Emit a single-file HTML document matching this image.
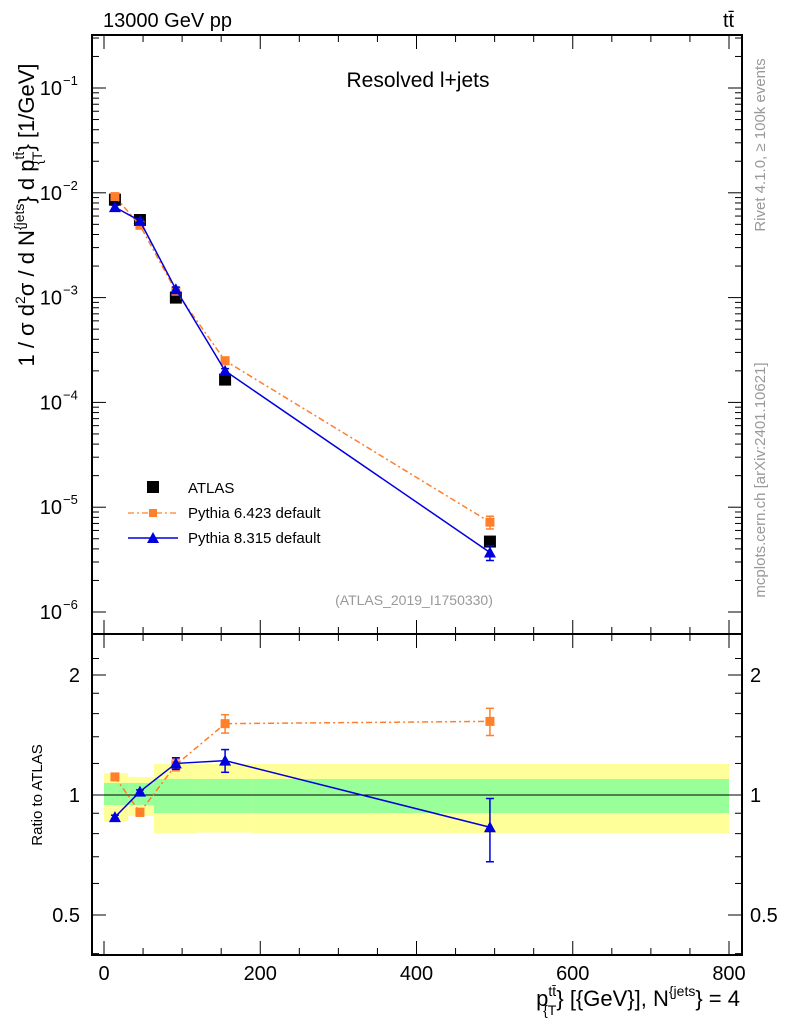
<!DOCTYPE html>
<html><head><meta charset="utf-8"><style>
body{margin:0;background:#fff}
svg text{font-family:"Liberation Sans",sans-serif}
</style></head><body>
<svg id="c" width="786" height="1024" viewBox="0 0 786 1024" xmlns="http://www.w3.org/2000/svg">
<g id="bands"></g>
<g id="axes"></g>
<g id="marks"></g>
<text x="103" y="27" font-size="20">13000 GeV pp</text>
<text x="723" y="27" font-size="20">tt̄</text>
<text x="418" y="87" font-size="21" text-anchor="middle">Resolved l+jets</text>
<text x="414" y="605" font-size="14" fill="#999" text-anchor="middle">(ATLAS_2019_I1750330)</text>
<text transform="translate(765,145) rotate(-90)" font-size="15" fill="#999" text-anchor="middle">Rivet 4.1.0, ≥ 100k events</text>
<text transform="translate(765,480) rotate(-90)" font-size="15" fill="#999" text-anchor="middle">mcplots.cern.ch [arXiv:2401.10621]</text>
<text transform="translate(34,215) rotate(-90)" font-size="22" text-anchor="middle">1 / σ d<tspan font-size="14" dy="-9">2</tspan><tspan dy="9">σ / d N</tspan><tspan font-size="14" dy="-10">{jets</tspan><tspan dy="10">} d p</tspan><tspan font-size="14" dy="-10">tt̄</tspan><tspan font-size="14" dx="-13" dy="18">{T</tspan><tspan dy="-8">} [1/GeV]</tspan></text>
<text transform="translate(42,795) rotate(-90)" font-size="15" text-anchor="middle">Ratio to ATLAS</text>
<text x="740" y="1006" font-size="22" text-anchor="end">p<tspan font-size="14" dy="-10">tt̄</tspan><tspan font-size="14" dx="-13" dy="19">{T</tspan><tspan dy="-9">} [{GeV}], N</tspan><tspan font-size="14" dy="-10">{jets</tspan><tspan dy="10">} = 4</tspan></text>
<g>
<rect x="147" y="481" width="12" height="12" fill="#000"/>
<text x="188" y="493" font-size="15">ATLAS</text>
<line x1="128" y1="513" x2="178" y2="513" stroke="#ff7f2a" stroke-width="1.3" stroke-dasharray="6,3,2,3"/>
<rect x="149" y="509" width="8" height="8" fill="#ff7f2a"/>
<text x="188" y="518" font-size="15">Pythia 6.423 default</text>
<line x1="128" y1="538" x2="178" y2="538" stroke="#0000dd" stroke-width="1.5"/>
<polygon points="153,532 159,543 147,543" fill="#0000dd"/>
<text x="188" y="543" font-size="15">Pythia 8.315 default</text>
</g>
</svg>
<script>
const xVals=[14,46,92,155,494];
const atlas=[8.6e-3,5.5e-3,1.0e-3,1.65e-4,4.7e-6];
const p6=[9.2e-3,4.9e-3,1.15e-3,2.5e-4,7.2e-6];
const p6err=[0.4e-3,0.2e-3,0.05e-3,0.15e-4,1.0e-6];
const p8=[7.3e-3,5.4e-3,1.2e-3,2.0e-4,3.7e-6];
const p8err=[0.3e-3,0.2e-3,0.06e-3,0.1e-4,0.6e-6];
const r6=[1.11,0.905,1.19,1.51,1.53];
const r6err=[0.02,0.02,0.04,0.08,0.12];
const r8=[0.88,1.02,1.20,1.22,0.83];
const r8err=[0.01,0.01,0.04,0.08,0.15];
const binEdges=[0,31,64,119,190,800];
const yelLo=[0.86,0.886,0.803,0.805,0.803];
const yelHi=[1.135,1.11,1.196,1.196,1.196];
const grnLo=[0.944,0.944,0.901,0.901,0.901];
const grnHi=[1.072,1.072,1.097,1.097,1.097];
const xTicks=[0,200,400,600,800];
const yDecades=[-1,-2,-3,-4,-5,-6];
const rTicks=[2,1,0.5];

const L=92,R=742,T=35,M=634,B=955;
const X=v=>104+v*0.78125;
const Y=v=>88-(Math.log10(v)+1)*104.8;
const YR=r=>795-120*Math.log2(r);
const NS='http://www.w3.org/2000/svg';
function mk(p,t,a){const e=document.createElementNS(NS,t);for(const k in a)e.setAttribute(k,a[k]);p.appendChild(e);return e;}
const bands=document.getElementById('bands'),axes=document.getElementById('axes'),marks=document.getElementById('marks');

for(let i=0;i<5;i++){
 const x0=X(binEdges[i]),x1=X(binEdges[i+1]);
 const y=mk(bands,'rect',{x:x0,y:YR(yelHi[i]),width:x1-x0,height:YR(yelLo[i])-YR(yelHi[i]),fill:'#ffff99'});
 
 
 const g=mk(bands,'rect',{x:x0,y:YR(grnHi[i]),width:x1-x0,height:YR(grnLo[i])-YR(grnHi[i]),fill:'#99ff99'});
 
 
}
const one=mk(axes,'line',{x1:L,x2:R,y1:YR(1),y2:YR(1),stroke:'#000','stroke-width':1});


const f1=mk(axes,'rect',{x:L,y:T,width:R-L,height:M-T,fill:'none',stroke:'#000','stroke-width':2});


const f2=mk(axes,'rect',{x:L,y:M,width:R-L,height:B-M,fill:'none',stroke:'#000','stroke-width':2});


for(let v=0;v<=800;v+=50){
 const maj=v%200===0,len=maj?14:7;
 [[T,1],[M,-1],[M,1],[B,-1]].forEach(([y0,d])=>{mk(axes,'line',{x1:X(v),x2:X(v),y1:y0,y2:y0+d*len,stroke:'#000','stroke-width':1});});
}
xTicks.forEach(v=>{const t=mk(axes,'text',{x:X(v),y:980,'font-size':20,'text-anchor':'middle'});t.textContent=v;
 
 });
yDecades.forEach(d=>{
 const y=Y(Math.pow(10,d));
 mk(axes,'line',{x1:L,x2:L+14,y1:y,y2:y,stroke:'#000'});mk(axes,'line',{x1:R,x2:R-14,y1:y,y2:y,stroke:'#000'});
 for(let k=2;k<10;k++){const yy=Y(k*Math.pow(10,d));if(yy<T)continue;
  mk(axes,'line',{x1:L,x2:L+7,y1:yy,y2:yy,stroke:'#000'});mk(axes,'line',{x1:R,x2:R-7,y1:yy,y2:yy,stroke:'#000'});}
 const t=mk(axes,'text',{x:62,y:y+7,'font-size':20,'text-anchor':'end'});t.textContent='10';
 
 
 const s=mk(axes,'text',{x:63,y:y-3,'font-size':13});s.textContent='−'+(-d);
});
[0.4,0.5,0.6,0.7,0.8,0.9,1,1.2,1.4,1.6,1.8,2,2.2].forEach(r=>{const y=YR(r);if(y<M||y>B)return;
 const maj=rTicks.includes(r),len=maj?14:7;
 mk(axes,'line',{x1:L,x2:L+len,y1:y,y2:y,stroke:'#000'});mk(axes,'line',{x1:R,x2:R-len,y1:y,y2:y,stroke:'#000'});});
rTicks.forEach(r=>{[[80,'end'],[750,'start']].forEach(([x,a])=>{const t=mk(axes,'text',{x:x,y:YR(r)+7,'font-size':20,'text-anchor':a});t.textContent=r;
 
 });});

function series(vals,errs,fy,col,dash,shape,name){
 const pts=xVals.map((x,i)=>X(x)+','+fy(vals[i])).join(' ');
 const pl=mk(marks,'polyline',{points:pts,fill:'none',stroke:col,'stroke-width':1.5});
 if(dash)pl.setAttribute('stroke-dasharray',dash);
 
 
 xVals.forEach((xv,i)=>{const x=X(xv),y=fy(vals[i]);
  if(errs){const y1=fy(vals[i]+errs[i]),y2=fy(Math.max(vals[i]-errs[i],1e-9));
   mk(marks,'line',{x1:x,x2:x,y1:y1,y2:y2,stroke:col,'stroke-width':1.5});
   mk(marks,'line',{x1:x-4,x2:x+4,y1:y1,y2:y1,stroke:col,'stroke-width':1.5});
   mk(marks,'line',{x1:x-4,x2:x+4,y1:y2,y2:y2,stroke:col,'stroke-width':1.5});}
  let m;
  if(shape==='sq')m=mk(marks,'rect',{x:x-4.5,y:y-4.5,width:9,height:9,fill:col});
  else m=mk(marks,'polygon',{points:`${x},${y-6} ${x+6},${y+5} ${x-6},${y+5}`,fill:col});
  
  
 });
}
xVals.forEach((xv,i)=>{const m=mk(marks,'rect',{x:X(xv)-6,y:Y(atlas[i])-6,width:12,height:12,fill:'#000'});
 
 });
series(p6,p6err,Y,'#ff7f2a','6,3,2,3','sq','pythia6');
series(p8,p8err,Y,'#0000dd',null,'tri','pythia8');
series(r6,r6err,YR,'#ff7f2a','6,3,2,3','sq','pythia6-ratio');
series(r8,r8err,YR,'#0000dd',null,'tri','pythia8-ratio');
</script>
</body></html>
